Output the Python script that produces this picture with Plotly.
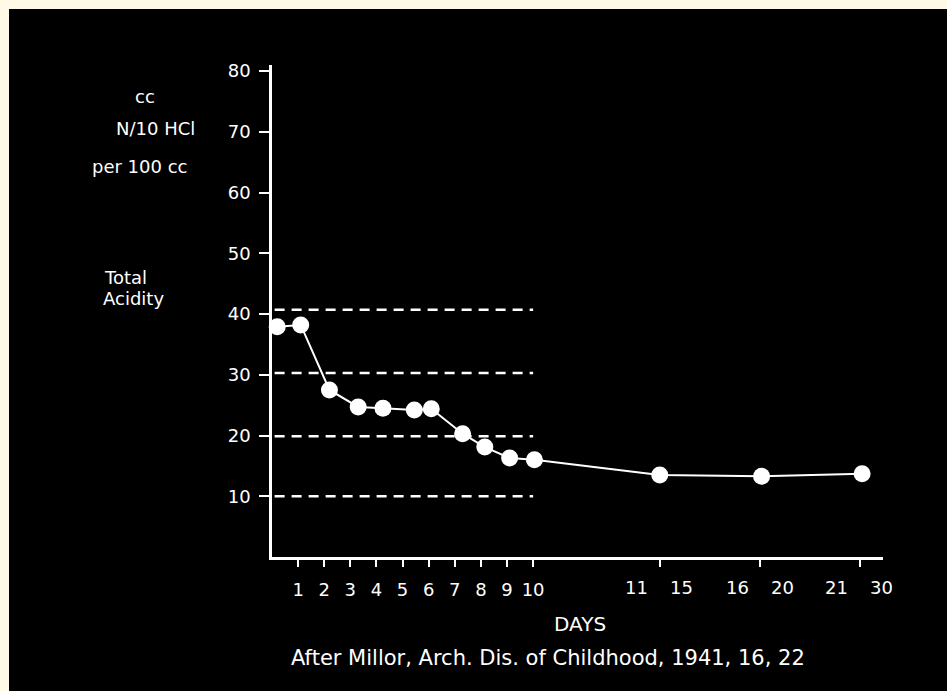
import plotly.graph_objects as go

# ---- data ----
point_x = [0.2, 1.1, 2.2, 3.3, 4.25, 5.45, 6.1, 7.3, 8.15, 9.1, 10.05, 14.85, 18.75, 22.6]
acidity = [37.9, 38.2, 27.5, 24.7, 24.5, 24.2, 24.4, 20.3, 18.1, 16.3, 16.0, 13.5, 13.3, 13.7]

day_ticks = [1, 2, 3, 4, 5, 6, 7, 8, 9, 10]
day_labels = ["1", "2", "3", "4", "5", "6", "7", "8", "9", "10"]
group_ticks = [14.85, 18.7, 22.5]
group_lo = ["11", "16", "21"]
group_hi = ["15", "20", "30"]

ref_levels = [40.7, 30.3, 19.9, 10.0]
ref_x = [0.1, 10.0]

y_ticks = [10, 20, 30, 40, 50, 60, 70, 80]

FONT = "DejaVu Sans, sans-serif"
WHITE = "#ffffff"
FS = 18

fig = go.Figure()

for lvl in ref_levels:
    fig.add_trace(go.Scatter(
        x=ref_x, y=[lvl, lvl], mode="lines",
        line=dict(color=WHITE, width=2.5, dash="10px,7px"),
        hoverinfo="skip", showlegend=False, cliponaxis=False))

fig.add_trace(go.Scatter(
    x=point_x, y=acidity, mode="lines+markers",
    line=dict(color=WHITE, width=2),
    marker=dict(color=WHITE, size=17, line=dict(width=0)),
    showlegend=False, cliponaxis=False))

txt = dict(family=FONT, size=FS, color=WHITE)

annotations = []
for t, lo, hi in zip(group_ticks, group_lo, group_hi):
    annotations.append(dict(x=t, y=-0.061, xref="x", yref="paper", text=lo,
                            showarrow=False, xshift=-23, xanchor="center",
                            yanchor="middle", font=txt))
    annotations.append(dict(x=t, y=-0.061, xref="x", yref="paper", text=hi,
                            showarrow=False, xshift=22, xanchor="center",
                            yanchor="middle", font=txt))


def note(x, y, text, xanchor="center", size=FS):
    return dict(x=x, y=y, xref="paper", yref="paper", text=text, showarrow=False,
                xanchor=xanchor, yanchor="middle",
                font=dict(family=FONT, size=size, color=WHITE))


annotations += [
    note(-0.208, 0.935, "cc"),
    note(-0.190, 0.870, "N/10 HCl"),
    note(-0.216, 0.793, "per 100 cc"),
    note(-0.278, 0.569, "Total", "left"),
    note(-0.280, 0.526, "Acidity", "left"),
    note(0.504, -0.136, "DAYS", size=20),
    note(0.452, -0.205, "After Millor, Arch. Dis. of Childhood, 1941, 16, 22", size=21),
]

fig.update_layout(
    width=938, height=682,
    margin=dict(l=263, r=64, t=56, b=134, pad=0),
    paper_bgcolor="#000000", plot_bgcolor="#000000",
    font=dict(family=FONT, color=WHITE, size=FS),
    xaxis=dict(range=[0, 23.4], showgrid=False, zeroline=False,
               showline=True, linecolor=WHITE, linewidth=2.5,
               ticks="outside", tickcolor=WHITE, tickwidth=2, ticklen=7,
               tickvals=day_ticks + group_ticks,
               ticktext=day_labels + ["", "", ""],
               ticklabelstandoff=8,
               tickfont=txt),
    yaxis=dict(range=[0, 81], showgrid=False, zeroline=False,
               showline=True, linecolor=WHITE, linewidth=2.5,
               ticks="outside", tickcolor=WHITE, tickwidth=2, ticklen=10,
               tickvals=y_ticks, ticklabelstandoff=5,
               tickfont=txt),
    annotations=annotations,
)

fig.write_html("out.html", post_script=(
    "document.body.style.margin='9px 0 0 9px';"
    "document.body.style.background='#FFF9E6';"
    "document.documentElement.style.background='#FFF9E6';"))
